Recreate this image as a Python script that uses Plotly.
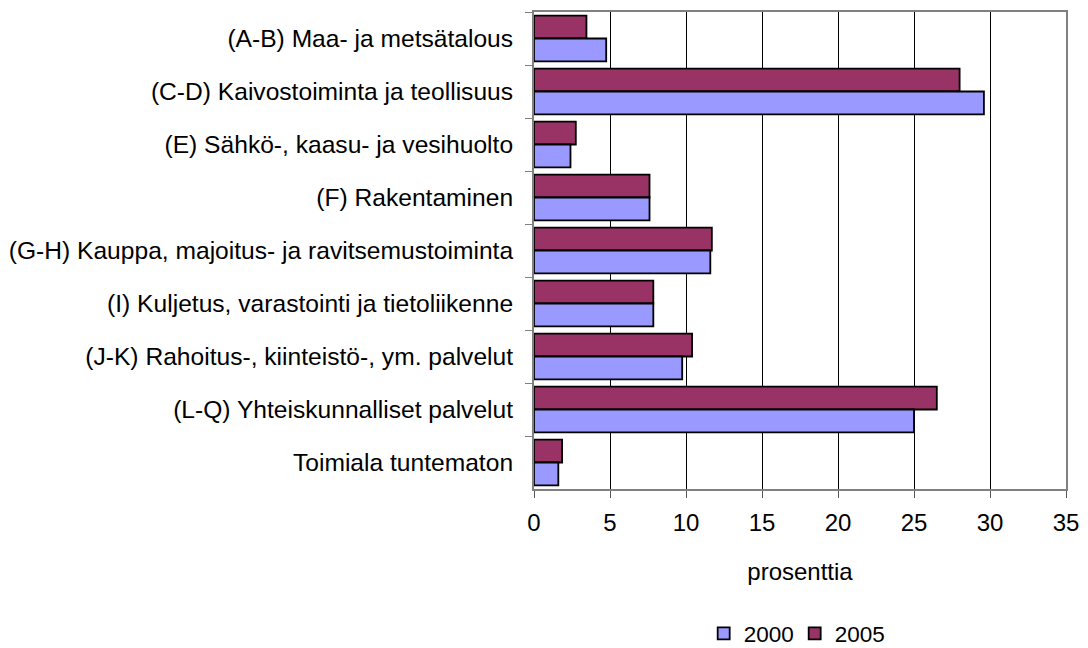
import plotly.graph_objects as go

categories = [
    "(A-B) Maa- ja metsätalous",
    "(C-D) Kaivostoiminta ja teollisuus",
    "(E) Sähkö-, kaasu- ja vesihuolto",
    "(F) Rakentaminen",
    "(G-H) Kauppa, majoitus- ja ravitsemustoiminta",
    "(I) Kuljetus, varastointi ja tietoliikenne",
    "(J-K) Rahoitus-, kiinteistö-, ym. palvelut",
    "(L-Q) Yhteiskunnalliset palvelut",
    "Toimiala tuntematon",
]
values_2000 = [4.75, 29.6, 2.4, 7.6, 11.6, 7.85, 9.75, 25.0, 1.6]
values_2005 = [3.45, 28.0, 2.75, 7.6, 11.7, 7.85, 10.4, 26.5, 1.85]
x_ticks = [0, 5, 10, 15, 20, 25, 30, 35]

FONT = "Liberation Sans, Arial, sans-serif"

fig = go.Figure()
fig.add_trace(go.Bar(
    y=categories, x=values_2005, name="2005", orientation="h",
    marker=dict(color="#993366", line=dict(color="#000000", width=1.8)),
))
fig.add_trace(go.Bar(
    y=categories, x=values_2000, name="2000", orientation="h",
    marker=dict(color="#9999FF", line=dict(color="#000000", width=1.8)),
))

fig.update_layout(
    width=1088, height=648,
    margin=dict(l=534, r=22, t=12, b=159),
    paper_bgcolor="white", plot_bgcolor="white",
    barmode="group", bargap=0.14, bargroupgap=0,
    font=dict(family=FONT, size=24, color="black"),
    showlegend=True,
    legend=dict(
        orientation="h", traceorder="reversed",
        xref="paper", x=0.49, xanchor="center",
        yref="container", y=0.022, yanchor="middle",
        font=dict(family=FONT, size=22.5, color="black"),
        itemwidth=30, tracegroupgap=0,
        entrywidth=46, entrywidthmode="pixels",
    ),
)
fig.update_xaxes(
    range=[0, 35], tickvals=x_ticks, ticktext=[str(v) for v in x_ticks],
    showgrid=True, gridcolor="#000000", gridwidth=1,
    showline=True, linecolor="#808080", linewidth=2, mirror=True,
    ticks="outside", ticklen=7, tickcolor="#555555", tickwidth=1,
    ticklabelstandoff=4, automargin=False,
    tickfont=dict(family=FONT, size=24),
    zeroline=False,
    title=dict(text="prosenttia", standoff=28, font=dict(family=FONT, size=24)),
)
fig.update_yaxes(
    autorange="reversed", type="category",
    showline=True, linecolor="#808080", linewidth=2, mirror=True,
    ticks="outside", ticklen=7, tickcolor="#808080", tickson="boundaries",
    showgrid=False, ticklabelstandoff=14, automargin=False,
    tickfont=dict(family=FONT, size=24.6),
)

fig.write_html(
    "out.html",
    config={"displayModeBar": False},
    post_script="document.body.style.margin='0';document.body.style.overflow='hidden';",
)
